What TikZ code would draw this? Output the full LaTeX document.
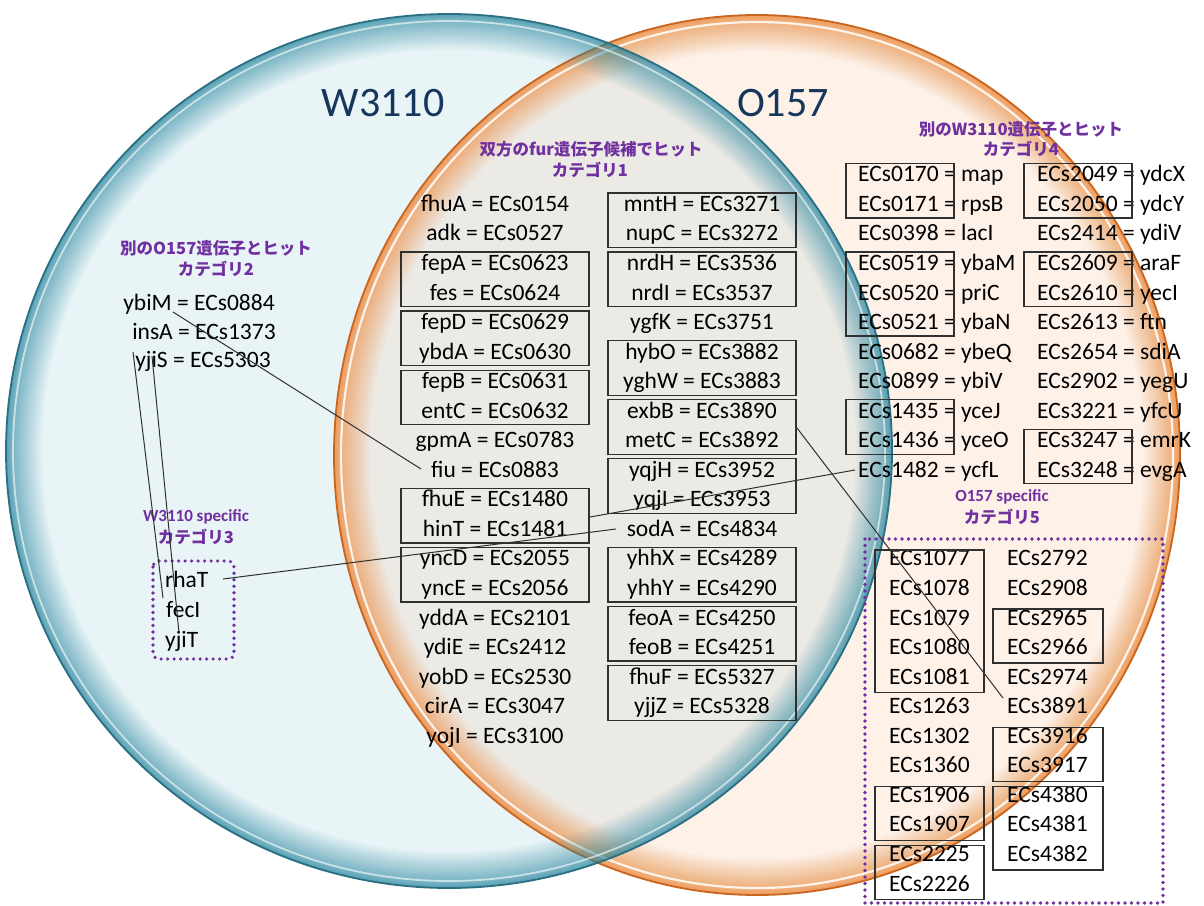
\documentclass[tikz,border=0pt]{standalone}
\usepackage{fontspec}
\setmainfont{Carlito}
\newfontfamily\jpfont{Noto Sans CJK JP}

\definecolor{bIn}{HTML}{E9F4F7}
\definecolor{bRim}{HTML}{2F8FA8}
\definecolor{bEdge}{HTML}{2A6F82}
\definecolor{oIn}{HTML}{FDF1E8}
\definecolor{oRim}{HTML}{F08A36}
\definecolor{oEdge}{HTML}{C8651E}
\definecolor{ovl}{HTML}{ECEAE5}
\definecolor{titleblue}{HTML}{17365D}
\definecolor{catpurple}{HTML}{7030A0}
\definecolor{boxgray}{HTML}{303030}
\definecolor{linkgray}{HTML}{303030}

\newcommand\genefont{\fontsize{23.5}{28}\selectfont}
\newcommand\catjp{\jpfont\bfseries\fontsize{16.5}{20}\selectfont}
\newcommand\catlat{\bfseries\fontsize{17}{20}\selectfont}
\newcommand\titlefont{\fontsize{42}{48}\selectfont}

% box around a run of rows (baselines 181.8 + 29.55 n)
\newcommand\rowbox[6]{\draw[boxline] (#1,{181.8+29.55*#3-#5}) rectangle (#2,{181.8+29.55*#4+#6});}

\tikzset{
  gene/.style={inner sep=0pt, anchor=base, font=\genefont},
  genew/.style={gene, anchor=base west},
  boxline/.style={draw=boxgray, line width=1.3pt},
  link/.style={draw=linkgray, line width=1pt},
  catlabel/.style={text=catpurple, inner sep=0pt},
  dotbox/.style={draw=catpurple, line width=3.6pt, line cap=round, dash pattern=on 0pt off 6.5pt},
  titletext/.style={text=titleblue, font=\titlefont, inner sep=0pt}
}

\begin{document}
\begin{tikzpicture}[x=1pt,y=-1pt]
\useasboundingbox (0,0) rectangle (1204,905);
\fill[white] (0,0) rectangle (1204,905);

\def\bluepath{(449,451) ellipse [x radius=443pt, y radius=437pt]}
\def\orangepath{(757,455) ellipse [x radius=423pt, y radius=440pt]}

% set interiors
\fill[bIn] \bluepath;
\fill[oIn] \orangepath;
\begin{scope}
  \clip \bluepath;
  \fill[ovl] \orangepath;
\end{scope}

% orange rim: stacked translucent strokes, denser towards the edge
\begin{scope}
  \clip \orangepath;
  \foreach \i in {1,...,36}
    {\draw[draw=oRim, line width={72*(\i/36)^2}, draw opacity=0.04] \orangepath;}
  \draw[white, line width=2.2pt, draw opacity=0.85] (757,455) ellipse [x radius=416pt, y radius=433pt];
\end{scope}
\draw[oEdge, line width=1.8pt] \orangepath;

% blue rim
\begin{scope}
  \clip \bluepath;
  \foreach \i in {1,...,36}
    {\draw[draw=bRim, line width={72*(\i/36)^2}, draw opacity=0.04] \bluepath;}
  \draw[white, line width=1.8pt, draw opacity=0.6] (449,451) ellipse [x radius=436pt, y radius=430pt];
\end{scope}
\draw[bEdge, line width=1.8pt] \bluepath;

% titles
\node[titletext] (tW) at (383,103) {W3110};
\node[titletext] (tO) at (783,103) {O157};

% category labels
\node[catlabel, font=\catjp] (cat1a) at (591,149) {双方のfur遺伝子候補でヒット};
\node[catlabel, font=\catjp] (cat1b) at (590,170) {カテゴリ1};
\node[catlabel, font=\catjp] (cat2a) at (216,248) {別のO157遺伝子とヒット};
\node[catlabel, font=\catjp] (cat2b) at (216,269) {カテゴリ2};
\node[catlabel, font=\catlat] (cat3a) at (196,517) {W3110 specific};
\node[catlabel, font=\catjp] (cat3b) at (196,537) {カテゴリ3};
\node[catlabel, font=\catjp] (cat4a) at (1021,129) {別のW3110遺伝子とヒット};
\node[catlabel, font=\catjp] (cat4b) at (1021,149) {カテゴリ4};
\node[catlabel, font=\catlat] (cat5a) at (1002,497) {O157 specific};
\node[catlabel, font=\catjp] (cat5b) at (1002,517) {カテゴリ5};

% category 2 genes
\node[gene] (ybiM) at (199,310) {ybiM = ECs0884};
\node[gene] (insA) at (204,339) {insA = ECs1373};
\node[gene] (yjiS) at (203,367.5) {yjiS = ECs5303};

% category 3 genes
\draw[dotbox, rounded corners=6pt] (153,561) rectangle (234,659);
\node[genew] (rhaT) at (165,587) {rhaT};
\node[genew] (fecI) at (166,617) {fecI};
\node[genew] (yjiT) at (165,647) {yjiT};

% category 1, first column
\foreach \n/\t in {1/fhuA = ECs0154, 2/adk = ECs0527, 3/fepA = ECs0623, 4/fes = ECs0624,
  5/fepD = ECs0629, 6/ybdA = ECs0630, 7/fepB = ECs0631, 8/entC = ECs0632,
  9/gpmA = ECs0783, 10/fiu = ECs0883, 11/fhuE = ECs1480, 12/hinT = ECs1481,
  13/yncD = ECs2055, 14/yncE = ECs2056, 15/yddA = ECs2101, 16/ydiE = ECs2412,
  17/yobD = ECs2530, 18/cirA = ECs3047, 19/yojI = ECs3100}
  {\node[gene] (gL\n) at (495,{181.8+29.55*\n}) {\t};}
\foreach \a/\b in {3/4, 5/6, 7/8, 11/12, 13/14}
  {\rowbox{401}{589}{\a}{\b}{18.5}{6.5}}

% category 1, second column
\foreach \n/\t in {1/mntH = ECs3271, 2/nupC = ECs3272, 3/nrdH = ECs3536, 4/nrdI = ECs3537,
  5/ygfK = ECs3751, 6/hybO = ECs3882, 7/yghW = ECs3883, 8/exbB = ECs3890,
  9/metC = ECs3892, 10/yqjH = ECs3952, 11/yqjI = ECs3953, 12/sodA = ECs4834,
  13/yhhX = ECs4289, 14/yhhY = ECs4290, 15/feoA = ECs4250, 16/feoB = ECs4251,
  17/fhuF = ECs5327, 18/yjjZ = ECs5328}
  {\node[gene] (gR\n) at (702,{181.8+29.55*\n}) {\t};}
\foreach \a/\b in {1/2, 3/4, 6/7, 8/9, 10/11, 13/14, 15/16, 17/18}
  {\rowbox{608}{796}{\a}{\b}{18.5}{6.5}}

% category 4
\foreach \n/\t in {0/ECs0170 = map, 1/ECs0171 = rpsB, 2/ECs0398 = lacI, 3/ECs0519 = ybaM,
  4/ECs0520 = priC, 5/ECs0521 = ybaN, 6/ECs0682 = ybeQ, 7/ECs0899 = ybiV,
  8/ECs1435 = yceJ, 9/ECs1436 = yceO, 10/ECs1482 = ycfL}
  {\node[genew] (hA\n) at (858,{181.8+29.55*\n}) {\t};}
\foreach \n/\t in {0/ECs2049 = ydcX, 1/ECs2050 = ydcY, 2/ECs2414 = ydiV, 3/ECs2609 = araF,
  4/ECs2610 = yecI, 5/ECs2613 = ftn, 6/ECs2654 = sdiA, 7/ECs2902 = yegU,
  8/ECs3221 = yfcU, 9/ECs3247 = emrK, 10/ECs3248 = evgA}
  {\node[genew] (hB\n) at (1037,{181.8+29.55*\n}) {\t};}
\foreach \a/\b in {0/1, 3/5, 8/9}
  {\rowbox{846}{954}{\a}{\b}{18.5}{6.5}}
\foreach \a/\b in {0/1, 3/4, 9/10}
  {\rowbox{1024}{1132}{\a}{\b}{18.5}{6.5}}

% category 5
\draw[dotbox] (865,539) rectangle (1163,903);
\foreach \n/\t in {13/ECs1077, 14/ECs1078, 15/ECs1079, 16/ECs1080, 17/ECs1081, 18/ECs1263,
  19/ECs1302, 20/ECs1360, 21/ECs1906, 22/ECs1907, 23/ECs2225, 24/ECs2226}
  {\node[genew] (sA\n) at (889,{181.8+29.55*\n}) {\t};}
\foreach \n/\t in {13/ECs2792, 14/ECs2908, 15/ECs2965, 16/ECs2966, 17/ECs2974, 18/ECs3891,
  19/ECs3916, 20/ECs3917, 21/ECs4380, 22/ECs4381, 23/ECs4382}
  {\node[genew] (sB\n) at (1007,{181.8+29.55*\n}) {\t};}
\foreach \a/\b in {13/17, 21/22, 23/24}
  {\rowbox{875}{984}{\a}{\b}{16}{8.5}}
\foreach \a/\b in {15/16, 19/20, 21/23}
  {\rowbox{993}{1103}{\a}{\b}{16}{8.5}}

% connector ends
\coordinate (ybiMout) at (173,312);
\coordinate (fiuin) at (421,469);
\coordinate (yjiSoutA) at (133,352);
\coordinate (fecIin) at (163,598);
\coordinate (yjiSoutB) at (152,356);
\coordinate (yjiTin) at (179,633);
\coordinate (rhaTout) at (223,579);
\coordinate (sodAin) at (616,529);
\coordinate (hinTout) at (590,517);
\coordinate (ycfLin) at (855,470);
\coordinate (metCout) at (797,428);
\coordinate (s3891in) at (1003,698);

% connectors
\draw[link] (ybiMout) -- (fiuin);
\draw[link] (yjiSoutA) -- (fecIin);
\draw[link] (yjiSoutB) -- (yjiTin);
\draw[link] (rhaTout) -- (sodAin);
\draw[link] (hinTout) -- (ycfLin);
\draw[link] (metCout) -- (s3891in);
\end{tikzpicture}
\end{document}
